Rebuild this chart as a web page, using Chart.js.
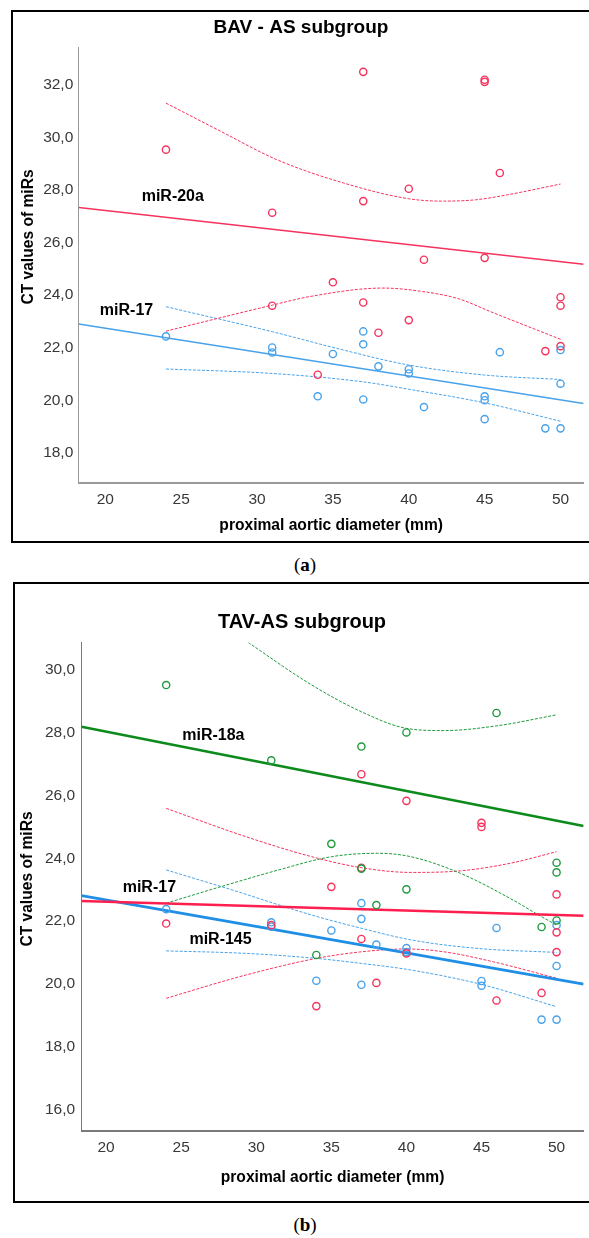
<!DOCTYPE html>
<html lang="en">
<head>
<meta charset="utf-8">
<title>CT values of miRs vs proximal aortic diameter</title>
<script src="https://cdn.jsdelivr.net/npm/chart.js"></script>
<style>
  html, body { margin: 0; padding: 0; background: #fff; }
  body { width: 589px; height: 1238px; position: relative; overflow: hidden; }
  .box { position: absolute; border: 2px solid #000; box-sizing: border-box; }
  #boxA { left: 11px; top: 10px; width: 640px; height: 533px; }
  #boxB { left: 13px; top: 582px; width: 640px; height: 621px; }
  canvas { position: absolute; }
  #chartA { left: 13px; top: 12px; }
  #chartB { left: 15px; top: 584px; }
  .caption { position: absolute; left: 0; width: 610px; text-align: center;
             font-family: "Liberation Serif", "DejaVu Serif", serif; font-size: 19px; line-height: 22px; }
</style>
</head>
<body>
<div class="box" id="boxA"></div>
<div class="box" id="boxB"></div>
<canvas id="chartA" width="576" height="529"></canvas>
<canvas id="chartB" width="574" height="617"></canvas>
<div class="caption" style="top:554px">(<b>a</b>)</div>
<div class="caption" style="top:1214px">(<b>b</b>)</div>

<script>
    // ---- panel (a): BAV - AS subgroup ----
    const diamA20a = [24, 31, 31, 34, 35, 37, 37, 37, 38, 40, 40, 41, 45, 45, 45, 46, 49, 50, 50, 50];
    const ctA20a   = [29.54, 27.14, 23.6, 20.97, 24.49, 32.5, 27.58, 23.72, 22.57, 28.05, 23.05, 25.35, 32.2, 32.12, 25.42, 28.65, 21.87, 23.92, 23.6, 22.06];
    const diamA17  = [24, 31, 31, 34, 35, 37, 37, 37, 38, 40, 40, 41, 45, 45, 45, 46, 49, 50, 50, 50];
    const ctA17    = [22.43, 22.01, 21.82, 20.15, 21.76, 22.62, 22.13, 20.03, 21.29, 21.18, 21.02, 19.74, 20.15, 20.0, 19.28, 21.83, 18.93, 21.91, 20.63, 18.93];

    // fit lines (ends at axis limits) and 95% CI curves
    const fitXA      = [18.25, 51.52];
    const fitA20a    = [27.34, 25.18];
    const fitA17     = [22.9, 19.88];
    const upA20aX    = [24, 27.6, 31.3, 35.7, 40, 42.2, 44.4, 46.5, 50];
    const upA20aY    = [31.31, 30.24, 29.16, 28.27, 27.67, 27.58, 27.63, 27.82, 28.23];
    const loA20aX    = [24, 31, 33.5, 38.3, 40.9, 43.3, 45.4, 50];
    const loA20aY    = [22.63, 23.62, 23.95, 24.27, 24.14, 23.86, 23.37, 22.32];
    const upA17X     = [24, 31, 35.7, 40, 45, 50];
    const upA17Y     = [23.56, 22.61, 21.91, 21.34, 20.96, 20.79];
    const loA17X     = [24, 31, 37, 40, 45, 50];
    const loA17Y     = [21.19, 21.02, 20.70, 20.42, 19.90, 19.20];

    // ---- panel (b): TAV-AS subgroup ----
    const diamB18a = [24, 31, 34, 35, 37, 37, 38, 40, 40, 46, 49, 50, 50, 50];
    const ctB18a   = [29.52, 27.12, 20.92, 24.46, 27.56, 23.67, 22.51, 28.01, 23.01, 28.63, 21.81, 23.86, 23.55, 22.02];
    const diamB17  = [24, 31, 34, 35, 37, 37, 37, 38, 40, 40, 45, 45, 46, 49, 50, 50, 50];
    const ctB17    = [21.92, 21.87, 19.29, 23.09, 26.68, 23.7, 21.43, 20.03, 25.83, 20.97, 25.13, 25.0, 19.47, 19.71, 22.85, 21.64, 21.01];
    const diamB145 = [24, 31, 31, 34, 35, 37, 37, 37, 38, 40, 40, 45, 45, 46, 49, 50, 50, 50];
    const ctB145   = [22.38, 21.96, 21.82, 20.1, 21.7, 22.57, 22.07, 19.97, 21.25, 21.14, 21.01, 20.09, 19.94, 21.78, 18.86, 21.87, 20.57, 18.86];

    const fitXB      = [18.36, 51.8];
    const fitB18a    = [28.19, 25.03];
    const fitB17     = [22.64, 22.17];
    const fitB145    = [22.81, 19.99];
    const upB18aX    = [27, 29.4, 33.7, 37, 40, 42.5, 46, 50];
    const upB18aY    = [31.7, 30.9, 29.52, 28.67, 28.14, 28.07, 28.22, 28.57];
    const loB18aX    = [24, 27.6, 31.5, 35, 38.1, 40.3, 43.6, 47.1, 48.6, 50];
    const loB18aY    = [22.57, 23.09, 23.63, 24.05, 24.16, 24.05, 23.52, 22.67, 22.25, 21.87];
    const upB17X     = [24, 29.3, 33.7, 37, 40.3, 43.6, 46.9, 50];
    const upB17Y     = [25.59, 24.69, 24.05, 23.7, 23.55, 23.6, 23.84, 24.21];
    const loB17X     = [24, 29.3, 34, 37, 40, 42.5, 45.8, 50];
    const loB17Y     = [19.54, 20.28, 20.81, 21.02, 21.11, 21.02, 20.7, 20.18];
    const upB145X    = [24, 28.4, 33.7, 37, 40.3, 44.7, 50];
    const upB145Y    = [23.63, 22.99, 22.19, 21.77, 21.4, 21.13, 21.0];
    const loB145X    = [24, 29.3, 34, 37, 40.3, 45, 50];
    const loB145Y    = [21.05, 20.97, 20.81, 20.65, 20.44, 19.98, 19.27];

    const xTicks  = [20, 25, 30, 35, 40, 45, 50];
    const yTicksA = [18, 20, 22, 24, 26, 28, 30, 32];
    const yTicksB = [16, 18, 20, 22, 24, 26, 28, 30];

    const RED = '#f5335d', BLUE = '#48a2ea', GREEN = '#1f9a3c';

    Chart.defaults.font.family = '"Liberation Sans", Arial, sans-serif';
    Chart.defaults.animation = false;

    const pts = (xs, ys) => xs.map((x, i) => ({x: x, y: ys[i]}));
    const dots = (xs, ys, c) => ({data: pts(xs, ys), showLine: false, pointRadius: 3.6,
        pointBorderWidth: 1.4, pointBorderColor: c, pointBackgroundColor: 'rgba(0,0,0,0)', order: 0});
    const fit = (xs, ys, c, w) => ({data: pts(xs, ys), showLine: true, borderColor: c,
        borderWidth: w, pointRadius: 0, order: 1});
    const ci = (xs, ys, c) => ({data: pts(xs, ys), showLine: true, borderColor: c, borderWidth: 1,
        borderDash: [3, 1.5], pointRadius: 0, cubicInterpolationMode: 'monotone', order: 2});
    const comma = v => Number(v).toFixed(1).replace('.', ',');

    // draws the curve labels and the rotated y title
    const notes = {
        id: 'notes',
        afterDatasetsDraw(chart, args, opts) {
            const {ctx, scales: {x, y}} = chart;
            ctx.save();
            ctx.fillStyle = '#000';
            ctx.textAlign = 'center';
            ctx.textBaseline = 'middle';
            ctx.font = 'bold 16px "Liberation Sans", Arial, sans-serif';
            opts.labels.forEach(l => ctx.fillText(l.text, x.getPixelForValue(l.x), y.getPixelForValue(l.y)));
            ctx.font = 'bold 15.6px "Liberation Sans", Arial, sans-serif';
            ctx.translate(opts.yTitleX, opts.yTitleY);
            ctx.rotate(-Math.PI / 2);
            ctx.fillText('CT values of miRs', 0, 0);
            ctx.restore();
        }
    };

    function makeChart(id, o) {
        return new Chart(document.getElementById(id), {
            type: 'scatter',
            data: {datasets: o.datasets},
            plugins: [notes],
            options: {
                responsive: false,
                layout: {padding: 0},
                plugins: {
                    legend: {display: false},
                    tooltip: {enabled: false},
                    title: {display: true, text: o.title, color: '#000',
                        font: {size: o.titleSize, weight: 'bold'}, padding: o.titlePad},
                    notes: {labels: o.labels, yTitleX: o.yTitleX, yTitleY: o.yTitleY}
                },
                scales: {
                    x: {
                        type: 'linear', min: o.xMin, max: o.xMax,
                        afterFit: s => { s.height = o.xHeight; },
                        afterBuildTicks: s => { s.ticks = xTicks.map(v => ({value: v})); },
                        grid: {display: false, drawTicks: false},
                        border: {display: true, color: o.axisColor, width: o.xAxisWidth},
                        ticks: {color: '#383838', font: {size: 15.5}, padding: 7, maxRotation: 0},
                        title: {display: true, text: 'proximal aortic diameter (mm)', color: '#000',
                            font: {size: 15.6, weight: 'bold'}, padding: {top: 0, bottom: o.xTitlePad}}
                    },
                    y: {
                        type: 'linear', min: o.yMin, max: o.yMax,
                        afterFit: s => { s.width = o.yWidth; },
                        afterBuildTicks: s => { s.ticks = o.yTicks.map(v => ({value: v})); },
                        grid: {display: false, drawTicks: false},
                        border: {display: true, color: o.axisColor, width: 1},
                        ticks: {color: '#383838', font: {size: 15.5}, padding: o.yTickPad, callback: comma}
                    }
                }
            }
        });
    }

    makeChart('chartA', {
        title: 'BAV - AS subgroup', titleSize: 19, titlePad: {top: 4.3, bottom: 8.6},
        xMin: 18.25, xMax: 51.52, yMin: 16.85, yMax: 33.42, yTicks: yTicksA,
        xHeight: 58, yWidth: 65.7, yTickPad: 5.4, xTitlePad: 5.6,
        axisColor: '#9a9a9a', xAxisWidth: 2,
        yTitleX: 15.5, yTitleY: 225,
        labels: [{text: 'miR-20a', x: 24.45, y: 27.77}, {text: 'miR-17', x: 21.4, y: 23.43}],
        datasets: [
            dots(diamA20a, ctA20a, RED), dots(diamA17, ctA17, BLUE),
            fit(fitXA, fitA20a, RED, 1.5), fit(fitXA, fitA17, BLUE, 1.5),
            ci(upA20aX, upA20aY, RED), ci(loA20aX, loA20aY, RED),
            ci(upA17X, upA17Y, BLUE), ci(loA17X, loA17Y, BLUE)
        ]
    });

    makeChart('chartB', {
        title: 'TAV-AS subgroup', titleSize: 20, titlePad: {top: 26.7, bottom: 8},
        xMin: 18.36, xMax: 51.8, yMin: 15.31, yMax: 30.87, yTicks: yTicksB,
        xHeight: 70, yWidth: 66.5, yTickPad: 6.4, xTitlePad: 13.9,
        axisColor: '#7a7a7a', xAxisWidth: 2,
        yTitleX: 12.5, yTitleY: 295,
        labels: [{text: 'miR-18a', x: 27.14, y: 27.9}, {text: 'miR-17', x: 22.88, y: 23.06},
                 {text: 'miR-145', x: 27.62, y: 21.4}],
        datasets: [
            dots(diamB18a, ctB18a, GREEN), dots(diamB17, ctB17, RED), dots(diamB145, ctB145, BLUE),
            fit(fitXB, fitB18a, '#0c8a1c', 2.6), fit(fitXB, fitB17, '#ff1f4e', 2.6), fit(fitXB, fitB145, '#1f8fe6', 2.6),
            ci(upB18aX, upB18aY, GREEN), ci(loB18aX, loB18aY, GREEN),
            ci(upB17X, upB17Y, RED), ci(loB17X, loB17Y, RED),
            ci(upB145X, upB145Y, BLUE), ci(loB145X, loB145Y, BLUE)
        ]
    });
</script>
</body>
</html>
